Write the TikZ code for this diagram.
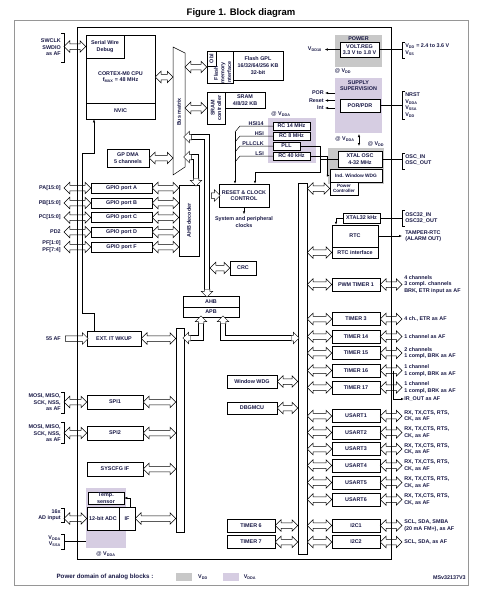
\documentclass[tikz,border=0pt]{standalone}
\usepackage{fontspec}
\setmainfont{Liberation Sans}
\usetikzlibrary{arrows.meta,calc,shapes.arrows}
\definecolor{ink}{RGB}{25,25,70}
\definecolor{gvdd}{RGB}{200,200,200}
\definecolor{gvdda}{RGB}{214,205,226}
\definecolor{frm}{RGB}{150,150,150}
\newcommand\lbfont{\fontsize{5.4}{6.6}\selectfont\bfseries}
\newcommand\busarrow[3][dbus]{\path let \p1=(#2), \p2=(#3), \n1={veclen(\x2-\x1,\y2-\y1)}, \n2={atan2(\y2-\y1,\x2-\x1)} in node[#1, minimum height=\n1, rotate=\n2] at ($(\p1)!0.5!(\p2)$) {};}
\begin{document}
\begin{tikzpicture}[x=1pt, y=-1pt, line width=0.5pt, >={Latex[length=3pt,width=2.4pt]},
    blk/.style={draw, fill=white, inner sep=0, align=center, font=\lbfont, text=ink},
    txt/.style={inner sep=0, align=center, font=\lbfont, text=ink},
    rl/.style={txt, anchor=west, align=left},
    ll/.style={txt, anchor=east, align=right},
    perbox/.style={blk, minimum width=48, minimum height=13},
    gpiobox/.style={blk, minimum width=61, minimum height=10},
    dbus/.style={double arrow, draw, fill=white, inner xsep=0, inner ysep=2.5pt, minimum width=11, double arrow head extend=3pt},
    sbus/.style={single arrow, draw, fill=white, inner xsep=0, inner ysep=2.5pt, minimum width=11, single arrow head extend=3pt},
    pipe/.style={double=white, double distance=4.5pt, line width=0.5pt}]
\useasboundingbox (0,0) rectangle (478,592);

\node[font=\bfseries\fontsize{9.5}{11}\selectfont] (title) at (241,13) {Figure 1. Block diagram};
\draw[frm, line width=0.6pt] (14,20) rectangle (468,585);

\fill[gvdd] (335,35) rectangle (382,67);
\fill[gvdda] (335,78) rectangle (382,133);
\fill[gvdda] (268,118) rectangle (316,163);
\fill[gvdd] (328,148) rectangle (384,184);
\fill[gvdda] (86,488) rectangle (126,548);

\coordinate (lx) at (64,0);
\coordinate (rx) at (402,0);
\coordinate (bml) at (173,0);
\coordinate (bmr) at (185,0);

\node[blk, minimum width=69, minimum height=84] (cpu) at (120.5,77) {};
\node[blk, minimum width=69, minimum height=16] (nvic) at (120.5,111) {NVIC};
\node[blk, minimum width=38, minimum height=23] (swd) at (105,46.5) {Serial Wire\\Debug};
\node[txt] (cpuname) at (120.5,77) {CORTEX-M0 CPU\\f\textsubscript{MAX} = 48 MHz};
\node[ll] (swdpins) at (61,47.5) {SWCLK\\SWDIO\\as AF};

\draw[fill=white] (173,47) -- (185,53) -- (185,167) -- (173,175) -- cycle;
\node[txt, rotate=90] (bmtxt) at (179,112) {Bus matrix};

\node[blk, minimum width=26, minimum height=32] (flif) at (220,67) {};
\node[blk, minimum width=9, minimum height=15] (obl) at (211.5,58.5) {};
\node[txt, rotate=90] (obltxt) at (obl) {Obl};
\node[txt, rotate=90] (fliftxt) at (222.5,73) {Flash\\memory\\interface};
\node[blk, minimum width=50, minimum height=29] (flash) at (258,65.5) {Flash GPL\\16/32/64/256 KB\\32-bit};
\node[blk, minimum width=18, minimum height=32] (sramc) at (216,108) {};
\node[txt, rotate=90] (sramctxt) at (sramc) {SRAM\\controller};
\node[blk, minimum width=40, minimum height=16] (sram) at (245,100) {SRAM\\4/8/32 KB};
\node[blk, minimum width=42, minimum height=18] (dma) at (128,158) {GP DMA\\5 channels};

\node[gpiobox] (gpa) at (121.5,188) {GPIO port A};
\node[gpiobox] (gpb) at (121.5,203) {GPIO port B};
\node[gpiobox] (gpc) at (121.5,217.5) {GPIO port C};
\node[gpiobox] (gpd) at (121.5,232) {GPIO port D};
\node[gpiobox] (gpf) at (121.5,247) {GPIO port F};
\node[ll] (pa) at (61,188) {PA[15:0]};
\node[ll] (pb) at (61,203) {PB[15:0]};
\node[ll] (pc) at (61,217.5) {PC[15:0]};
\node[ll] (pd) at (61,232) {PD2};
\node[ll] (pf) at (61,246.5) {PF[1:0]\\PF[7:4]};
\node[blk, minimum width=20, minimum height=71] (ahbdec) at (189,220.5) {};
\node[txt, rotate=90] (ahbdectxt) at (ahbdec) {AHB decoder};

\node[blk, minimum width=50, minimum height=23] (rcc) at (244,195.5) {RESET \& CLOCK\\CONTROL};
\node[txt] (sysclk) at (244,222) {System and peripheral\\clocks};
\node[blk, minimum width=26, minimum height=14] (crc) at (243,268) {CRC};
\node[blk, minimum width=56, minimum height=11] (ahb) at (211,301.5) {AHB};
\node[blk, minimum width=56, minimum height=10] (apb) at (211,312) {APB};

\node[txt] (vddaclk) at (281,114) {@ V\textsubscript{DDA}};
\node[blk, minimum width=37, minimum height=8] (rc14) at (291.5,126) {RC 14 MHz};
\node[blk, minimum width=37, minimum height=8] (rc8) at (291.5,136) {RC 8 MHz};
\node[blk, minimum width=27, minimum height=8] (pll) at (286.5,146) {PLL};
\node[blk, minimum width=37, minimum height=8] (rc40) at (291.5,156) {RC 40 kHz};
\node[txt, anchor=south east] (hsi14) at (264,125.5) {HSI14};
\node[txt, anchor=south east] (hsi) at (264,135.5) {HSI};
\node[txt, anchor=south east] (pllclk) at (264,145.5) {PLLCLK};
\node[txt, anchor=south east] (lsi) at (264,155.5) {LSI};

\node[txt] (powtxt) at (358.5,38.5) {POWER};
\node[blk, minimum width=39, minimum height=15] (vreg) at (359.5,49.5) {VOLT.REG\\3.3 V to 1.8 V};
\node[ll] (vdd18) at (322,49.5) {V\textsubscript{DD18}};
\node[txt] (vddpow) at (343,71) {@ V\textsubscript{DD}};
\node[txt] (suptxt) at (358.5,85.5) {SUPPLY\\SUPERVISION};
\node[blk, minimum width=40, minimum height=13] (por) at (360,105.5) {POR/PDR};
\node[txt] (vddasup) at (345,139) {@ V\textsubscript{DDA}};
\node[txt] (vddxt) at (376,144) {@ V\textsubscript{DD}};
\node[blk, minimum width=44, minimum height=16] (xosc) at (360,159) {XTAL OSC\\4-32 MHz};
\node[blk, minimum width=52, minimum height=13, font=\fontsize{4.8}{6}\selectfont\bfseries] (iwdg) at (356,175.5) {Ind. Window WDG};
\node[blk, minimum width=28, minimum height=13, font=\fontsize{4.6}{5.4}\selectfont\bfseries] (pwr) at (344,188.5) {Power\\Controller};

\node[blk, minimum width=37, minimum height=10] (x32) at (361.5,218) {XTAL32 kHz};
\node[blk, minimum width=46, minimum height=22] (rtc) at (355,236) {RTC};
\node[blk, minimum width=46, minimum height=11] (rtcif) at (355,252.5) {RTC interface};
\node[perbox] (pwm) at (356,284.5) {PWM TIMER 1};
\node[perbox] (tim3) at (356,319) {TIMER 3};
\node[perbox] (tim14) at (356,336.5) {TIMER 14};
\node[perbox] (tim15) at (356,353) {TIMER 15};
\node[perbox] (tim16) at (356,370.5) {TIMER 16};
\node[perbox] (tim17) at (356,387.5) {TIMER 17};
\node[perbox] (usart1) at (356,416) {USART1};
\node[perbox] (usart2) at (356,432.5) {USART2};
\node[perbox] (usart3) at (356,449) {USART3};
\node[perbox] (usart4) at (356,465.5) {USART4};
\node[perbox] (usart5) at (356,482.5) {USART5};
\node[perbox] (usart6) at (356,499.5) {USART6};
\node[perbox] (i2c1) at (356,525.5) {I2C1};
\node[perbox] (i2c2) at (356,542) {I2C2};

\node[rl] (vddpins) at (405,49.5) {V\textsubscript{DD} = 2.4 to 3.6 V\\V\textsubscript{SS}};
\node[rl] (porpins) at (405,105) {NRST\\V\textsubscript{DDA}\\V\textsubscript{SSA}\\V\textsubscript{DD}};
\node[rl] (oscpins) at (405,160) {OSC\_IN\\OSC\_OUT};
\node[rl] (osc32pins) at (405,218) {OSC32\_IN\\OSC32\_OUT};
\node[rl] (tamper) at (405,236) {TAMPER-RTC\\(ALARM OUT)};
\node[rl] (pwmpins) at (404,284.5) {4 channels\\3 compl. channels\\BRK, ETR input as AF};
\node[rl] (tim3pins) at (404,319) {4 ch., ETR as AF};
\node[rl] (tim14pins) at (404,336.5) {1 channel as AF};
\node[rl] (tim15pins) at (404,353) {2 channels\\1 compl, BRK as AF};
\node[rl] (tim16pins) at (404,370.5) {1 channel\\1 compl, BRK as AF};
\node[rl] (tim17pins) at (404,387.5) {1 channel\\1 compl, BRK as AF};
\node[rl] (irout) at (404,399) {IR\_OUT as AF};
\node[rl] (usart1pins) at (404,416) {RX, TX,CTS, RTS,\\CK, as AF};
\node[rl] (usart2pins) at (404,432.5) {RX, TX,CTS, RTS,\\CK, as AF};
\node[rl] (usart3pins) at (404,449) {RX, TX,CTS, RTS,\\CK, as AF};
\node[rl] (usart4pins) at (404,465.5) {RX, TX,CTS, RTS,\\CK, as AF};
\node[rl] (usart5pins) at (404,482.5) {RX, TX,CTS, RTS,\\CK, as AF};
\node[rl] (usart6pins) at (404,499.5) {RX, TX,CTS, RTS,\\CK, as AF};
\node[rl] (i2c1pins) at (404,525.5) {SCL, SDA, SMBA\\(20 mA FM+), as AF};
\node[rl] (i2c2pins) at (404,542) {SCL, SDA, as AF};

\node[blk, minimum width=9, minimum height=371] (apbr) at (302.5,368.5) {};
\node[blk, minimum width=8, minimum height=204] (apbl) at (180,430) {};
\node[blk, minimum width=50, minimum height=13] (wwdg) at (252,381.5) {Window WDG};
\node[blk, minimum width=50, minimum height=12] (dbg) at (252,408) {DBGMCU};
\node[perbox] (tim6) at (251,525.5) {TIMER 6};
\node[perbox] (tim7) at (251,542) {TIMER 7};

\node[blk, minimum width=54, minimum height=15] (exti) at (114,338.5) {EXT. IT  WKUP};
\node[blk, minimum width=56, minimum height=14] (spi1) at (115,402) {SPI1};
\node[blk, minimum width=56, minimum height=14] (spi2) at (115,433) {SPI2};
\node[blk, minimum width=56, minimum height=14] (syscfg) at (115,469) {SYSCFG IF};
\node[blk, minimum width=36, minimum height=12] (temp) at (106,498) {Temp.\\sensor};
\node[blk, minimum width=32, minimum height=23] (adc) at (103,518.5) {12-bit ADC};
\node[blk, minimum width=16, minimum height=23] (adcif) at (127,518.5) {IF};
\node[ll] (af55) at (61,338.5) {55 AF};
\node[ll] (spi1pins) at (61,402.5) {MOSI, MISO,\\SCK, NSS,\\as AF};
\node[ll] (spi2pins) at (61,433.5) {MOSI, MISO,\\SCK, NSS,\\as AF};
\node[ll] (adin) at (61,515) {16x\\AD input};
\node[ll] (adcpwr) at (61,541) {V\textsubscript{DDA}\\V\textsubscript{SSA}};
\node[txt] (vddaadc) at (106,554) {@ V\textsubscript{DDA}};

\busarrow{lx|-swd}{swd.west}
\busarrow{cpu.east}{bml|-cpu}
\busarrow{bmr|-flif}{flif.west}
\busarrow{bmr|-sramc}{sramc.west}
\busarrow{dma.east}{bml|-dma}
\busarrow{lx|-gpa}{gpa.west}
\busarrow{lx|-gpb}{gpb.west}
\busarrow{lx|-gpc}{gpc.west}
\busarrow{lx|-gpd}{gpd.west}
\busarrow{lx|-gpf}{gpf.west}
\busarrow{gpa.east}{ahbdec.west|-gpa}
\busarrow{gpb.east}{ahbdec.west|-gpb}
\busarrow{gpc.east}{ahbdec.west|-gpc}
\busarrow{gpd.east}{ahbdec.west|-gpd}
\busarrow{gpf.east}{ahbdec.west|-gpf}
\busarrow[sbus]{lx|-exti}{exti.west}
\busarrow{exti.east}{apbl.west|-exti}
\busarrow{lx|-spi1}{spi1.west}
\busarrow{spi1.east}{apbl.west|-spi1}
\busarrow{lx|-spi2}{spi2.west}
\busarrow{spi2.east}{apbl.west|-spi2}
\busarrow{syscfg.east}{apbl.west|-syscfg}
\busarrow{lx|-adc}{adc.west}
\busarrow{adcif.east}{apbl.west|-adcif}
\busarrow{wwdg.east}{apbr.west|-wwdg}
\busarrow{dbg.east}{apbr.west|-dbg}
\busarrow{tim6.east}{apbr.west|-tim6}
\busarrow{tim7.east}{apbr.west|-tim7}
\busarrow{apbr.east|-pwr}{pwr.west}
\busarrow{apbr.east|-rtcif}{rtcif.west}
\busarrow{apbr.east|-pwm}{pwm.west}
\busarrow{pwm.east}{rx|-pwm}
\busarrow{apbr.east|-tim3}{tim3.west}
\busarrow{tim3.east}{rx|-tim3}
\busarrow{apbr.east|-tim14}{tim14.west}
\busarrow{tim14.east}{rx|-tim14}
\busarrow{apbr.east|-tim15}{tim15.west}
\busarrow{tim15.east}{rx|-tim15}
\busarrow{apbr.east|-tim16}{tim16.west}
\busarrow{tim16.east}{rx|-tim16}
\busarrow{apbr.east|-tim17}{tim17.west}
\busarrow{tim17.east}{rx|-tim17}
\busarrow{apbr.east|-usart1}{usart1.west}
\busarrow{usart1.east}{rx|-usart1}
\busarrow{apbr.east|-usart2}{usart2.west}
\busarrow{usart2.east}{rx|-usart2}
\busarrow{apbr.east|-usart3}{usart3.west}
\busarrow{usart3.east}{rx|-usart3}
\busarrow{apbr.east|-usart4}{usart4.west}
\busarrow{usart4.east}{rx|-usart4}
\busarrow{apbr.east|-usart5}{usart5.west}
\busarrow{usart5.east}{rx|-usart5}
\busarrow{apbr.east|-usart6}{usart6.west}
\busarrow{usart6.east}{rx|-usart6}
\busarrow{apbr.east|-i2c1}{i2c1.west}
\busarrow{i2c1.east}{rx|-i2c1}
\busarrow{apbr.east|-i2c2}{i2c2.west}
\busarrow{i2c2.east}{rx|-i2c2}

\coordinate (pa1) at (207,137);
\coordinate (pa2) at (196,157);
\coordinate (pa3) at (201,338);
\coordinate (pa4) at (223,338);
\coordinate (paw) at (210,0);
\busarrow[sbus]{$(bmr|-pa1)+(8,0)$}{bmr|-pa1}
\busarrow[sbus]{$(pa1|-ahb.north)+(0,-8)$}{pa1|-ahb.north}
\draw[pipe] ($(bmr|-pa1)+(7,0)$) -- (pa1) -- ($(pa1|-ahb.north)+(0,-7)$);
\busarrow[sbus]{paw|-rcc}{rcc.west}
\busarrow{paw|-crc}{crc.west}
\busarrow[sbus]{$(bmr|-pa2)+(8,0)$}{bmr|-pa2}
\busarrow[sbus]{$(pa2|-ahbdec.north)+(0,-8)$}{pa2|-ahbdec.north}
\draw[pipe] ($(bmr|-pa2)+(7,0)$) -- (pa2) -- ($(pa2|-ahbdec.north)+(0,-7)$);
\busarrow[sbus]{$(pa3|-apb.south)+(0,8)$}{pa3|-apb.south}
\busarrow[sbus]{$(apbl.east|-pa3)+(8,0)$}{apbl.east|-pa3}
\draw[pipe] ($(pa3|-apb.south)+(0,7)$) -- (pa3) -- ($(apbl.east|-pa3)+(7,0)$);
\busarrow[sbus]{$(pa4|-apb.south)+(0,8)$}{pa4|-apb.south}
\busarrow[sbus]{$(apbr.west|-pa4)+(-8,0)$}{apbr.west|-pa4}
\draw[pipe] ($(pa4|-apb.south)+(0,7)$) -- (pa4) -- ($(apbr.west|-pa4)+(-7,0)$);

\draw (77,27) rectangle (391,559);

\draw (61,33) -- (64,33) -- (64,62) -- (61,62);
\draw (61,392) -- (64,392) -- (64,413) -- (61,413);
\draw (61,422) -- (64,422) -- (64,443) -- (61,443);
\draw (61,508) -- (64,508) -- (64,522) -- (61,522);
\draw (61,534) -- (64,534) -- (64,549) -- (61,549);
\draw (405,42) -- (402,42) -- (402,58) -- (405,58);
\draw (405,91) -- (402,91) -- (402,119) -- (405,119);
\draw (405,153) -- (402,153) -- (402,169) -- (405,169);
\draw (405,210) -- (402,210) -- (402,226) -- (405,226);

\coordinate (ex1) at (94,313);
\coordinate (ex2) at (82,313);
\coordinate (ex3) at (82,153);
\coordinate (ex4) at (94,153);
\draw[->] (ex1|-exti.north) -- (ex1) -- (ex2) -- (ex3) -- (ex4) -- (ex4|-nvic.south);

\coordinate (hx) at (240,0);
\coordinate (pk) at (320,172);
\coordinate (rin) at (255,0);
\coordinate (lk) at (327,0);
\draw (rc14.west) -- (hx|-rc14) -- ++(-5,6);
\draw (rc8.west) -- (hx|-rc8) -- ++(-5,6);
\draw (pll.west) -- (hx|-pll) -- ++(-5,6);
\draw (rc40.west) -- (hx|-rc40) -- ++(-5,6);
\draw[->] ($(hx|-rc14)+(-5,6)$) -- ($(hx|-rcc.north)+(-5,0)$);
\draw[->] (pll.east) -- (pk|-pll) -- (pk) -- (rin|-pk) -- (rin|-rcc.north);
\draw[->] (rc40.east) -- (lk|-rc40) -- (lk|-iwdg) -- (iwdg.west);
\draw (xosc.west) -- (pk|-xosc);
\draw[->] (rcc.south) -- ++(0,7);

\draw[->] (vreg.west) -- ++(-15,0);
\draw (vreg.east) -- (rx|-vreg);
\coordinate (porout) at (335,93);
\coordinate (rstout) at (335,100.5);
\coordinate (intout) at (335,108);
\draw[->] (porout) -- ++(-10,0) node[ll, xshift=-1pt] (porlbl) {POR};
\draw[->] (rstout) -- ++(-10,0) node[ll, xshift=-1pt] (rstlbl) {Reset};
\draw[->] (intout) -- ++(-10,0) node[ll, xshift=-1pt] (intlbl) {Int};
\draw (por.east) -- (rx|-por);
\coordinate (supb) at (359,134);
\coordinate (xtt) at (359,146);
\draw[<->] (supb) -- (xtt);
\draw (xosc.east) -- (rx|-xosc);

\coordinate (rin32) at (336,0);
\draw[->] (x32.west) -- (rin32|-x32) -- (rin32|-rtc.north);
\draw (x32.east) -- (rx|-x32);
\draw[->] (rtc.east) -- (rx|-rtc);
\coordinate (irx) at (393,0);
\draw[->] (irx|-tim16) -- (irx|-irout) -- (irout.west);

\coordinate (ifx) at (130,0);
\draw[->] (ifx|-adcif.north) -- (ifx|-temp) -- (temp.east);
\coordinate (vin) at (64,541);
\draw (vin) -- ++(22,0);

\node[txt, font=\fontsize{6.2}{7}\selectfont\bfseries] (legend) at (105,577) {Power domain of analog blocks :};
\fill[gvdd] (176,573) rectangle (192,581);
\node[txt] (legvdd) at (203,577) {V\textsubscript{DD}};
\fill[gvdda] (223,573) rectangle (239,581);
\node[txt] (legvdda) at (250,577) {V\textsubscript{DDA}};
\node[txt, anchor=east] (msref) at (466,578) {MSv32137V3};
\end{tikzpicture}
\end{document}
